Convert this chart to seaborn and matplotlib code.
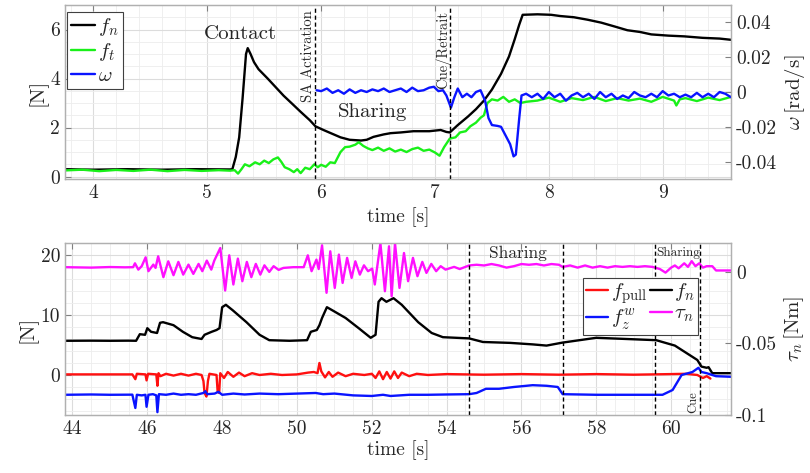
import matplotlib
matplotlib.use("Agg")
import matplotlib.pyplot as plt
from matplotlib.lines import Line2D
from matplotlib.ticker import MultipleLocator
import seaborn as sns
import numpy as np

# ---------------- data: top panel ----------------
top_fn_t = [3.75, 4.0, 4.3, 4.6, 4.9, 5.2, 5.22, 5.25, 5.28, 5.31, 5.34, 5.355, 5.38, 5.41, 5.45,
            5.53, 5.6, 5.67, 5.75, 5.82, 5.9, 5.95, 6.02, 6.08, 6.17, 6.25, 6.35, 6.4, 6.46, 6.55,
            6.61, 6.7, 6.81, 6.95, 7.05, 7.1, 7.13, 7.2, 7.29, 7.36, 7.43, 7.5, 7.58, 7.65, 7.70,
            7.74, 7.77, 7.9, 8.02, 8.1, 8.22, 8.34, 8.46, 8.58, 8.69, 8.8, 8.9, 9.05, 9.19, 9.35,
            9.5, 9.6]
top_fn_v = [0.3, 0.28, 0.3, 0.28, 0.3, 0.29, 0.3, 0.8, 1.6, 3.2, 5.0, 5.24, 5.0, 4.67, 4.38,
            4.0, 3.65, 3.3, 2.95, 2.64, 2.3, 2.05, 1.9, 1.78, 1.6, 1.5, 1.47, 1.5, 1.62, 1.72,
            1.77, 1.8, 1.85, 1.85, 1.9, 1.82, 1.8, 2.1, 2.45, 2.75, 3.1, 3.55, 4.19, 4.9, 5.6,
            6.2, 6.6, 6.62, 6.6, 6.55, 6.5, 6.4, 6.28, 6.12, 5.97, 5.9, 5.8, 5.75, 5.72, 5.66,
            5.63, 5.58]

top_ft_t = [3.75, 3.9, 4.05, 4.2, 4.35, 4.5, 4.65, 4.8, 4.95, 5.1, 5.2, 5.24, 5.27, 5.3, 5.33,
            5.37, 5.42, 5.46, 5.5, 5.54, 5.58, 5.62, 5.65, 5.68, 5.72, 5.76, 5.79, 5.82, 5.86,
            5.9, 5.94, 5.97, 6.0, 6.04, 6.08, 6.12, 6.17, 6.21, 6.25, 6.3, 6.33, 6.37, 6.41,
            6.45, 6.5, 6.55, 6.6, 6.65, 6.7, 6.75, 6.8, 6.85, 6.9, 6.95, 7.0, 7.04, 7.08, 7.13,
            7.18, 7.22, 7.27, 7.31, 7.36, 7.4, 7.43, 7.46, 7.5, 7.55, 7.6, 7.65, 7.7, 7.75, 7.8,
            7.9, 8.0, 8.1, 8.2, 8.3, 8.4, 8.5, 8.6, 8.7, 8.8, 8.9, 9.0, 9.1, 9.12, 9.15, 9.2,
            9.3, 9.4, 9.5, 9.6]
top_ft_v = [0.25, 0.28, 0.22, 0.27, 0.23, 0.28, 0.22, 0.27, 0.23, 0.26, 0.24, 0.26, 0.12, 0.3,
            0.5, 0.42, 0.58, 0.5, 0.65, 0.55, 0.7, 0.78, 0.6, 0.38, 0.3, 0.18, 0.3, 0.14, 0.36,
            0.3, 0.5, 0.38, 0.48, 0.4, 0.58, 0.55, 1.0, 1.2, 1.22, 1.3, 1.4, 1.25, 1.15, 1.08,
            1.18, 1.05, 1.15, 1.02, 1.1, 1.0, 1.12, 1.18, 1.05, 1.1, 0.98, 0.85, 1.2, 1.55, 1.6,
            1.8, 1.85, 2.05, 2.2, 2.4, 2.5, 3.0, 3.15, 3.1, 3.25, 3.05, 3.15, 3.0, 3.05, 3.1,
            3.22, 3.05, 3.2, 3.12, 3.25, 3.08, 3.2, 3.1, 3.18, 3.05, 3.25, 3.1, 2.9, 3.15, 3.2,
            3.08, 3.22, 3.12, 3.25]

top_w_t = [5.96, 6.0, 6.05, 6.1, 6.15, 6.2, 6.25, 6.3, 6.35, 6.4, 6.45, 6.5, 6.55, 6.6, 6.65,
           6.7, 6.75, 6.8, 6.85, 6.9, 6.95, 6.99, 7.03, 7.07, 7.1, 7.14, 7.17, 7.2, 7.24, 7.28,
           7.32, 7.36, 7.4, 7.44, 7.47, 7.5, 7.55, 7.58, 7.62, 7.66, 7.69, 7.71, 7.74, 7.76,
           7.8, 7.85, 7.9, 7.95, 8.0, 8.05, 8.1, 8.15, 8.2, 8.25, 8.3, 8.35, 8.4, 8.45, 8.5,
           8.55, 8.6, 8.65, 8.7, 8.75, 8.8, 8.85, 8.9, 8.95, 9.0, 9.05, 9.1, 9.15, 9.2, 9.25,
           9.3, 9.35, 9.4, 9.45, 9.5, 9.55, 9.6]
top_w_v = [0.001, 0.0005, 0.002, -0.0005, 0.001, -0.001, 0.0015, -0.0005, 0.001, 0.0, 0.0015,
           0.0005, 0.002, 0.0, 0.001, 0.002, 0.0, 0.0025, 0.0005, 0.001, 0.0025, 0.003, 0.0005,
           0.001, -0.002, -0.009, -0.003, 0.002, -0.003, -0.001, -0.003, 0.0, 0.001, -0.005,
           -0.015, -0.019, -0.0195, -0.02, -0.025, -0.03, -0.037, -0.036, -0.015, -0.002,
           -0.001, -0.003, -0.001, -0.004, 0.0, -0.003, -0.001, -0.005, -0.002, -0.0005, -0.003,
           -0.001, -0.004, 0.0, -0.003, -0.001, -0.004, -0.002, -0.0035, 0.0, -0.002, -0.003,
           -0.001, -0.003, 0.0005, -0.002, -0.001, -0.003, -0.0015, -0.003, -0.0005, -0.003,
           -0.001, -0.003, 0.0, -0.001, -0.003]

# ---------------- data: bottom panel ----------------
bot_fn_t = [43.8, 44.5, 45.0, 45.5, 45.7, 45.8, 45.94, 46.0, 46.1, 46.26, 46.34, 46.42, 46.7,
            46.95, 47.2, 47.45, 47.53, 47.72, 47.85, 47.93, 48.0, 48.1, 48.28, 48.65, 49.0,
            49.26, 49.8, 50.27, 50.37, 50.53, 50.6, 50.67, 50.8, 50.94, 51.3, 51.65, 51.97,
            52.1, 52.18, 52.26, 52.39, 52.58, 52.8, 53.24, 53.6, 53.9, 54.6, 54.97, 55.7,
            56.3, 56.67, 57.1, 58.0, 59.6, 60.1, 60.45, 60.7, 60.81, 60.95, 61.0, 61.1, 61.6]
bot_fn_v = [5.7, 5.72, 5.7, 5.72, 5.7, 6.8, 6.7, 7.8, 7.2, 7.0, 8.7, 8.8, 8.3, 7.2, 6.3, 6.0,
            6.7, 7.2, 7.5, 7.8, 11.3, 11.7, 10.8, 8.8, 6.7, 5.8, 5.7, 5.8, 7.2, 7.5, 8.3, 9.5,
            11.3, 10.8, 9.5, 7.8, 6.2, 6.7, 12.2, 12.8, 12.2, 12.8, 11.7, 8.8, 7.0, 6.3, 6.1,
            5.5, 5.35, 5.1, 4.9, 5.4, 6.2, 5.8, 4.9, 3.5, 2.5, 1.4, 1.2, 1.3, 0.3, 0.3]

bot_fp_t = [43.8, 45.6, 45.68, 45.72, 45.95, 45.98, 46.02, 46.24, 46.27, 46.3, 46.35, 46.5,
            46.7, 46.9, 47.1, 47.3, 47.45, 47.5, 47.53, 47.58, 47.62, 47.66, 47.85, 47.88,
            47.92, 47.95, 48.05, 48.15, 48.3, 48.45, 48.6, 48.8, 49.0, 49.3, 49.6, 50.0, 50.3,
            50.45, 50.55, 50.6, 50.65, 50.75, 50.85, 50.95, 51.1, 51.3, 51.5, 51.8, 52.0, 52.1,
            52.2, 52.3, 52.4, 52.5, 52.6, 52.7, 52.8, 53.0, 53.2, 53.5, 54.0, 55.0, 56.0, 57.0,
            58.0, 59.0, 60.0, 60.4, 60.7, 60.85, 60.95, 61.05]
bot_fp_v = [0.1, 0.1, -0.7, 0.2, 0.1, -0.9, 0.2, 0.1, -1.8, 0.3, -0.2, 0.2, -0.1, 0.2, -0.1,
            0.2, 0.0, -1.0, -3.0, -3.6, -1.0, 0.2, 0.0, -2.8, -3.0, 0.3, -0.5, 0.5, -0.3, 0.4,
            -0.2, 0.3, 0.0, 0.2, 0.0, 0.1, 0.4, 0.5, 0.3, 2.0, 0.6, -0.4, 0.5, -0.3, 0.4, -0.2,
            0.2, 0.0, 0.2, -0.5, 0.6, -0.7, 0.5, -0.6, 0.6, -0.5, 0.4, -0.2, 0.2, 0.0, 0.15,
            0.05, 0.15, 0.05, 0.15, 0.05, 0.15, 0.2, 0.0, -0.5, -0.2, -0.6]

bot_fz_t = [43.8, 44.5, 45.0, 45.6, 45.68, 45.72, 45.85, 45.95, 45.98, 46.03, 46.15, 46.24,
            46.27, 46.31, 46.5, 46.7, 46.9, 47.1, 47.3, 47.5, 47.55, 47.6, 47.8, 47.9, 48.0,
            48.3, 48.6, 49.0, 49.5, 50.0, 50.5, 50.7, 51.0, 51.5, 52.0, 52.3, 52.5, 53.0, 53.5,
            54.0, 54.6, 54.8, 55.05, 55.4, 55.8, 56.3, 56.67, 56.97, 57.1, 58.0, 59.0, 59.77,
            60.04, 60.28, 60.57, 60.73, 60.81, 60.95, 61.2, 61.6]
bot_fz_v = [-3.3, -3.25, -3.3, -3.28, -5.5, -3.3, -3.4, -3.3, -5.3, -3.3, -3.2, -3.4, -6.2,
            -3.2, -3.3, -3.1, -3.3, -3.2, -3.3, -3.0, -2.7, -3.2, -3.1, -2.8, -3.3, -3.1, -3.25,
            -3.1, -3.2, -3.1, -3.0, -3.2, -3.1, -3.4, -3.5, -3.3, -3.5, -3.3, -3.3, -3.25, -3.2,
            -3.0, -2.3, -2.3, -2.0, -1.7, -1.8, -2.0, -3.2, -3.3, -3.3, -3.3, -2.5, 0.0, 0.5,
            1.2, 0.5, 0.3, -0.2, -0.3]

bot_tau_t = [43.8, 44.5, 45.0, 45.4, 45.62, 45.67, 45.76, 45.85, 45.955, 46.03, 46.16, 46.22,
             46.29, 46.43, 46.56, 46.70, 46.83, 46.96, 47.10, 47.23, 47.37, 47.47, 47.59, 47.71,
             47.79, 47.95, 48.08, 48.19, 48.30, 48.42, 48.54, 48.66, 48.78, 48.90, 49.02, 49.13,
             49.26, 49.375, 49.51, 49.64, 49.9, 50.18, 50.29, 50.39, 50.52, 50.58, 50.67, 50.79,
             50.89, 51.01, 51.12, 51.22, 51.34, 51.46, 51.56, 51.68, 51.79, 51.90, 52.01, 52.08,
             52.23, 52.35, 52.46, 52.53, 52.62, 52.74, 52.86, 52.97, 53.10, 53.22, 53.35, 53.46,
             53.59, 53.72, 53.84, 53.97, 54.2, 54.35, 54.5, 54.6, 54.8, 55.0, 55.2, 55.4, 55.6,
             55.8, 56.0, 56.2, 56.4, 56.6, 56.8, 57.0, 57.1, 57.3, 57.5, 57.7, 57.9, 58.1, 58.3,
             58.5, 58.7, 58.9, 59.1, 59.3, 59.5, 59.7, 59.85, 60.0, 60.1, 60.2, 60.35, 60.45,
             60.55, 60.65, 60.75, 60.85, 60.95, 61.1, 61.2, 61.6]
bot_tau_v = [0.0033, 0.0030, 0.0034, 0.0032, 0.0033, 0.0060, 0.0016, 0.0040, 0.0102, 0.0005,
             0.0051, 0.0028, 0.0109, -0.0037, 0.0074, -0.0023, 0.0070, -0.0019, 0.0051, -0.0014,
             0.0056, 0.0005, 0.0079, 0.0016, 0.0079, 0.0167, -0.0130, 0.0116, -0.0088, 0.0093,
             -0.0065, 0.0070, -0.0037, 0.0056, -0.0019, 0.0046, 0.0000, 0.0040, 0.0014, 0.0028,
             0.0033, 0.0033, 0.0116, 0.0005, 0.0086, 0.0020, 0.0186, -0.0146, 0.0144, -0.0112,
             0.0121, -0.0077, 0.0098, -0.0042, 0.0074, -0.0019, 0.0046, 0.0005, 0.0023, -0.0088,
             0.0200, -0.0135, 0.0179, -0.0170, 0.0200, -0.0112, 0.0132, -0.0065, 0.0098, -0.0030,
             0.0070, -0.0007, 0.0056, 0.0005, 0.0040, 0.0016, 0.0035, 0.0020, 0.0035, 0.0045,
             0.0050, 0.0045, 0.0055, 0.0045, 0.0030, 0.0040, 0.0055, 0.0050, 0.0055, 0.0045,
             0.0055, 0.0050, 0.0035, 0.0045, 0.0030, 0.0045, 0.0030, 0.0040, 0.0030, 0.0040,
             0.0035, 0.0040, 0.0035, 0.0040, 0.0035, 0.0020, -0.0005, 0.0030, 0.0045, 0.0025,
             0.0060, 0.0035, 0.0075, 0.0040, 0.0060, 0.0030, 0.0040, 0.0040, 0.0010, 0.0010]

top_events = [5.95, 7.13]
top_event_labels = ["SA Activation", "Cue/Retrait"]
bot_events = [54.59, 57.12, 59.58, 60.78]

top_xticks = [4, 5, 6, 7, 8, 9]
top_yticks = [0, 2, 4, 6]
top_ryticks = [-0.04, -0.02, 0, 0.02, 0.04]
top_rylabels = ["-0.04", "-0.02", "0", "0.02", "0.04"]
bot_xticks = [44, 46, 48, 50, 52, 54, 56, 58, 60]
bot_yticks = [0, 10, 20]
bot_ryticks = [-0.1, -0.05, 0]
bot_rylabels = ["-0.1", "-0.05", "0"]

# ---------------- style ----------------
sns.set_style("white")
plt.rcParams.update({
    "font.family": ["cmr10", "DejaVu Serif"],
    "mathtext.fontset": "cm",
    "axes.unicode_minus": False,
    "axes.formatter.use_mathtext": False,
    "font.size": 14,
})

GREEN = "#19f019"
BLUE = "#0a14ff"
RED = "#ff1010"
MAG = "#ff10ff"
LW = 1.7
TXT = "#262626"

fig = plt.figure(figsize=(8.1, 4.73), dpi=100)
L, R = 65 / 810, 731 / 810
ax1 = fig.add_axes([L, 1 - 179 / 473, R - L, (179 - 5) / 473])
ax3 = fig.add_axes([L, 1 - 415 / 473, R - L, (415 - 243) / 473])
ax2 = ax1.twinx()
ax4 = ax3.twinx()


def style_axes(ax):
    ax.set_facecolor("white")
    for s in ax.spines.values():
        s.set_color("#b0b0b0")
        s.set_linewidth(0.9)
    ax.tick_params(which="both", direction="in", colors="#808080", labelcolor=TXT,
                   labelsize=14, length=4, top=True)
    ax.tick_params(which="minor", length=0)


def grid_axes(ax):
    ax.grid(True, which="major", color="#dcdcdc", lw=0.8)
    ax.grid(True, which="minor", color="#ededed", lw=0.6)
    ax.set_axisbelow(True)


def style_right(ax):
    ax.tick_params(direction="in", colors="#808080", labelcolor=TXT, labelsize=14, length=4)
    for s in ax.spines.values():
        s.set_color("#b0b0b0")
        s.set_linewidth(0.9)


# top panel
style_axes(ax1)
grid_axes(ax1)
sns.lineplot(x=top_fn_t, y=top_fn_v, ax=ax1, color="black", lw=LW, estimator=None, sort=False)
sns.lineplot(x=top_ft_t, y=top_ft_v, ax=ax1, color=GREEN, lw=LW, estimator=None, sort=False)
sns.lineplot(x=top_w_t, y=top_w_v, ax=ax2, color=BLUE, lw=LW, estimator=None, sort=False)
ax1.set_xlim(3.75, 9.6)
ax1.set_ylim(-0.1, 7.0)
ax2.set_ylim(-0.05, 0.05)
ax1.set_xticks(top_xticks)
ax1.set_yticks(top_yticks)
ax1.xaxis.set_minor_locator(MultipleLocator(0.2))
ax1.yaxis.set_minor_locator(MultipleLocator(0.5))
ax2.set_yticks(top_ryticks, top_rylabels)
style_right(ax2)
ax1.set_xlabel("time [s]", fontsize=14, color=TXT, labelpad=4)
ax1.set_ylabel("[N]", fontsize=15, color=TXT, labelpad=2)
ax2.set_ylabel(r"$\omega\,$[rad/s]", fontsize=15, color=TXT, labelpad=4)
for xe, lab in zip(top_events, top_event_labels):
    ax2.axvline(xe, color="black", ls=(0, (3, 2)), lw=1.0)
    ax1.text(xe - 0.06, 6.78, lab, rotation=90, ha="center", va="top", fontsize=10.5,
             color=TXT)
ax1.text(5.29, 5.8, "Contact", ha="center", va="center", fontsize=15, color=TXT)
ax1.text(6.45, 2.62, "Sharing", ha="center", va="center", fontsize=15, color=TXT)
h_top = [Line2D([], [], color="black", lw=LW), Line2D([], [], color=GREEN, lw=LW),
         Line2D([], [], color=BLUE, lw=LW)]
leg1 = ax2.legend(h_top, [r"$f_n$", r"$f_t$", r"$\omega$"], loc="upper left",
                  bbox_to_anchor=(0.003, 0.96), borderaxespad=0, fontsize=15,
                  handlelength=1.15, handletextpad=0.15, labelspacing=0.15, borderpad=0.2,
                  fancybox=False, framealpha=1, edgecolor="#404040")
leg1.get_frame().set_linewidth(0.8)

# bottom panel
style_axes(ax3)
grid_axes(ax3)
sns.lineplot(x=bot_fn_t, y=bot_fn_v, ax=ax3, color="black", lw=LW, estimator=None, sort=False)
sns.lineplot(x=bot_fp_t, y=bot_fp_v, ax=ax3, color=RED, lw=LW, estimator=None, sort=False)
sns.lineplot(x=bot_fz_t, y=bot_fz_v, ax=ax3, color=BLUE, lw=LW, estimator=None, sort=False)
sns.lineplot(x=bot_tau_t, y=bot_tau_v, ax=ax4, color=MAG, lw=LW, estimator=None, sort=False)
ax3.set_xlim(43.8, 61.6)
ax3.set_ylim(-6.67, 22.0)
ax4.set_ylim(-0.1, 0.0202)
ax3.set_xticks(bot_xticks)
ax3.set_yticks(bot_yticks)
ax3.xaxis.set_minor_locator(MultipleLocator(0.5))
ax3.yaxis.set_minor_locator(MultipleLocator(2))
ax4.set_yticks(bot_ryticks, bot_rylabels)
style_right(ax4)
ax3.set_xlabel("time [s]", fontsize=14, color=TXT, labelpad=2)
ax3.set_ylabel("[N]", fontsize=15, color=TXT, labelpad=2)
ax4.set_ylabel(r"$\tau_n\,$[Nm]", fontsize=15, color=TXT, labelpad=4)
for xe in bot_events:
    ax4.axvline(xe, color="black", ls=(0, (3, 2)), lw=1.0)
ax3.text(55.9, 20.3, "Sharing", ha="center", va="center", fontsize=12.5, color=TXT)
ax3.text(60.2, 20.3, "Sharing", ha="center", va="center", fontsize=9.5, color=TXT)
ax3.text(60.58, -6.3, "Cue", rotation=90, ha="center", va="bottom", fontsize=9, color=TXT)
h_bot = [Line2D([], [], color=RED, lw=LW), Line2D([], [], color=BLUE, lw=LW),
         Line2D([], [], color="black", lw=LW), Line2D([], [], color=MAG, lw=LW)]
leg2 = ax4.legend(h_bot, [r"$f_{\mathrm{pull}}$", r"$f^w_z$", r"$f_n$", r"$\tau_n$"],
                  ncol=2, loc="upper left", bbox_to_anchor=(0.778, 0.797), borderaxespad=0,
                  fontsize=15, handlelength=1.05, handletextpad=0.12, columnspacing=0.15,
                  labelspacing=0.05, borderpad=0.15, fancybox=False, framealpha=1,
                  edgecolor="#404040")
leg2.get_frame().set_linewidth(0.8)

fig.savefig("out.png", dpi=100)
